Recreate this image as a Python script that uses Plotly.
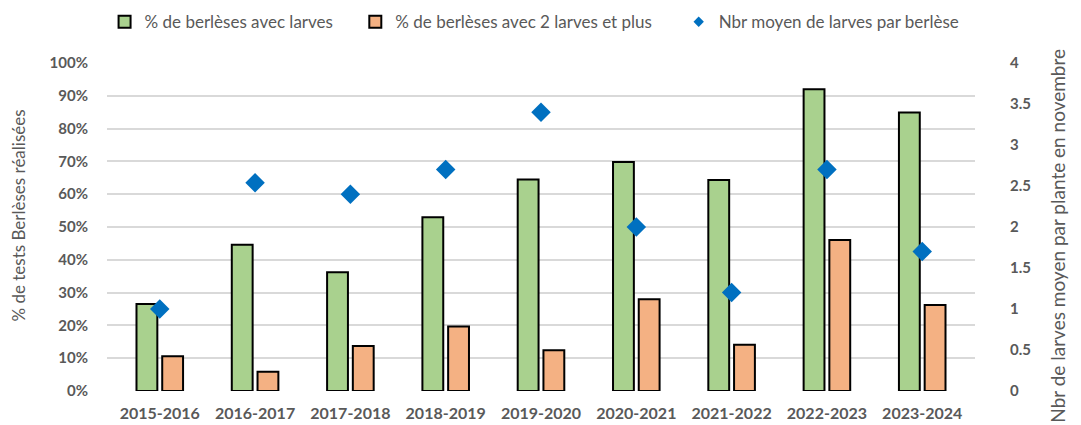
import plotly.graph_objects as go

# Values.
SEASONS = ["2015-2016", "2016-2017", "2017-2018", "2018-2019", "2019-2020",
           "2020-2021", "2021-2022", "2022-2023", "2023-2024"]
PCT_WITH_LARVAE = [0.265, 0.446, 0.362, 0.530, 0.645, 0.698, 0.643, 0.920, 0.849]
PCT_TWO_PLUS = [0.106, 0.059, 0.137, 0.197, 0.124, 0.280, 0.141, 0.460, 0.262]
MEAN_LARVAE = [1.0, 2.54, 2.4, 2.7, 3.4, 2.0, 1.2, 2.7, 1.7]

GREEN, ORANGE, BLUE = "#A9D18E", "#F4B183", "#0070C0"
GREY_TXT, GRID = "#595959", "#D9D9D9"
FONT = "Lato, Carlito, Open Sans, sans-serif"
NBSP = "\u00a0"

fig = go.Figure()
fig.add_trace(go.Bar(
    x=SEASONS, y=PCT_WITH_LARVAE, name="% de berlèses avec larves" + NBSP * 4,
    marker=dict(color=GREEN, line=dict(color="black", width=2)),
))
fig.add_trace(go.Bar(
    x=SEASONS, y=PCT_TWO_PLUS, name="% de berlèses avec 2 larves et plus" + NBSP * 5,
    marker=dict(color=ORANGE, line=dict(color="black", width=2)),
))
fig.add_trace(go.Scatter(
    x=SEASONS, y=MEAN_LARVAE, yaxis="y2", mode="markers", showlegend=False,
    marker=dict(symbol="diamond", size=15, color=BLUE),
))
# legend-only entry so the legend diamond stays small, as in the original
fig.add_trace(go.Scatter(
    x=[None], y=[None], yaxis="y2", mode="markers",
    name="Nbr moyen de larves par berlèse",
    marker=dict(symbol="diamond", size=8, color=BLUE),
))

# the page body adds an 8px offset, so the figure is 8px smaller than the window
fig.update_layout(
    width=1073, height=417,
    margin=dict(l=99, r=106, t=55, b=34),
    plot_bgcolor="white", paper_bgcolor="white",
    font=dict(family=FONT, size=14, color=GREY_TXT),
    barmode="group", bargap=0.46, bargroupgap=0.19,
    legend=dict(orientation="h", xref="container", yref="container",
                x=0.09, xanchor="left", y=0.966, yanchor="middle",
                font=dict(size=17, color=GREY_TXT), itemwidth=30,
                traceorder="normal"),
    xaxis=dict(showgrid=False, tickfont=dict(size=16, color=GREY_TXT),
               showline=False, ticks="", ticklabelstandoff=11, automargin=False),
    yaxis=dict(range=[0, 1], dtick=0.1, tickformat=".0%", gridcolor=GRID, gridwidth=1.5,
               zeroline=False, ticks="", ticklabelstandoff=18, automargin=False,
               tickfont=dict(size=15, color=GREY_TXT)),
    yaxis2=dict(range=[0, 4], dtick=0.5, overlaying="y", side="right", showgrid=False,
                zeroline=False, ticklabelstandoff=34, automargin=False,
                tickfont=dict(size=15, color=GREY_TXT)),
)
# bold tick labels like the original
for ax in (fig.layout.xaxis, fig.layout.yaxis, fig.layout.yaxis2):
    ax.tickprefix = "<b>"
    ax.ticksuffix = "</b>"

# axis titles placed as annotations to match the original positions
fig.add_annotation(text="% de tests Berlèses réalisées", textangle=-90,
                   xref="paper", yref="paper", x=-0.1025, y=0.535,
                   xanchor="center", yanchor="middle",
                   showarrow=False, font=dict(size=17, color=GREY_TXT))
fig.add_annotation(text="Nbr de larves moyen par plante en novembre", textangle=-90,
                   xref="paper", yref="paper", x=1.095, y=0.475,
                   xanchor="center", yanchor="middle",
                   showarrow=False, font=dict(size=19, color=GREY_TXT))

fig.write_html("out.html")
